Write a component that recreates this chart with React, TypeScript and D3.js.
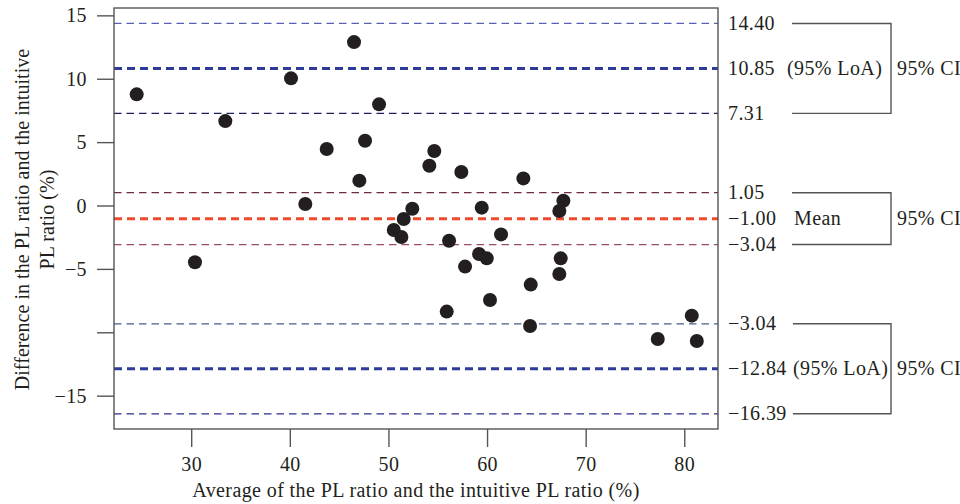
import React from "react";
import * as d3 from "d3";

// ---- data ----
const avgValues: number[] = [
  24.42, 33.41, 40.07, 46.46, 49.0, 43.69, 47.58, 47.0, 41.52, 54.6, 54.1, 57.34,
  52.37, 51.5, 50.49, 51.26, 56.1, 63.63, 59.41, 67.69, 67.28, 61.37, 59.14, 59.92,
  57.72, 67.42, 67.28, 64.38, 60.25, 64.31, 55.86, 30.33, 80.71, 77.26, 81.22,
];
const diffValues: number[] = [
  8.81, 6.7, 10.07, 12.93, 8.02, 4.5, 5.15, 2.0, 0.16, 4.34, 3.18, 2.68,
  -0.21, -1.03, -1.89, -2.44, -2.74, 2.18, -0.13, 0.42, -0.39, -2.24, -3.79, -4.13,
  -4.78, -4.13, -5.36, -6.2, -7.41, -9.46, -8.33, -4.44, -8.65, -10.49, -10.65,
];

const refValues: number[] = [14.4, 10.85, 7.31, 1.05, -1.0, -3.04, -9.29, -12.84, -16.39];
const refLabels: string[] = ["14.40", "10.85", "7.31", "1.05", "−1.00", "−3.04", "−3.04", "−12.84", "−16.39"];
const refColors: string[] = ["#5b5fb3", "#2e3b97", "#1d1d5e", "#6e2b3c", "#ee4a2d", "#9a4b6b", "#4b5a8a", "#2e3b9a", "#2c2c8e"];
const refThick: boolean[] = [false, true, false, false, true, false, false, true, false];

const xTicks: number[] = [30, 40, 50, 60, 70, 80];
const yTicks: number[] = [-15, -10, -5, 0, 5, 10, 15];
const yTickLabels: string[] = ["−15", "", "−5", "0", "5", "10", "15"];

const xTitle = "Average of the PL ratio and the intuitive PL ratio (%)";
const yTitle1 = "Difference in the PL ratio and the intuitive";
const yTitle2 = "PL ratio (%)";

const brackets: { top: number; mid: number; bottom: number; text: string }[] = [
  { top: 0, mid: 1, bottom: 2, text: "(95% LoA)" },
  { top: 3, mid: 4, bottom: 5, text: "Mean" },
  { top: 6, mid: 7, bottom: 8, text: "(95% LoA)" },
];

export default function App() {
  const W = 960, H = 504;
  const L = 114, R = 718, T = 8, B = 429;
  const font = "'Liberation Serif', 'Times New Roman', serif";
  const fs = 20;
  const ls = 0.4;
  const x = d3.scaleLinear().domain([22.12, 83.37]).range([L, R]);
  const y = d3.scaleLinear().domain([-17.59, 15.62]).range([B, T]);
  const grey = "#555";
  const txt = "#231f20";

  return (
    <svg width={W} height={H} style={{ position: "absolute", left: 0, top: 0, background: "#fff" }}>
      {refValues.map((v, i) => (
        <line key={"r" + i} x1={L} x2={R} y1={y(v)} y2={y(v)}
          stroke={refColors[i]} strokeWidth={refThick[i] ? 3 : 1.3}
          strokeDasharray={refThick[i] ? "8,5" : "7.5,5"} />
      ))}
      {avgValues.map((a, i) => (
        <circle key={"p" + i} cx={x(a)} cy={y(diffValues[i])} r={7} fill={txt} />
      ))}
      <rect x={L} y={T} width={R - L} height={B - T} fill="none" stroke={grey} strokeWidth={1.4} />
      {yTicks.map((t, i) => (
        <g key={"yt" + i}>
          <line x1={L - 17} x2={L} y1={y(t)} y2={y(t)} stroke={grey} strokeWidth={1.4} />
          <text x={L - 27} y={y(t)} dy="0.33em" textAnchor="end" fontFamily={font} fontSize={fs} letterSpacing={ls} fill={txt}>
            {yTickLabels[i]}
          </text>
        </g>
      ))}
      {xTicks.map((t, i) => (
        <g key={"xt" + i}>
          <line x1={x(t)} x2={x(t)} y1={B} y2={B + 18} stroke={grey} strokeWidth={1.4} />
          <text x={x(t)} y={471} textAnchor="middle" fontFamily={font} fontSize={fs} letterSpacing={ls} fill={txt}>
            {t}
          </text>
        </g>
      ))}
      <text x={416} y={497} textAnchor="middle" fontFamily={font} fontSize={fs} letterSpacing={ls} fill={txt}>
        {xTitle}
      </text>
      <g transform={`translate(29, ${219.5}) rotate(-90)`}>
        <text x={0} y={0} textAnchor="middle" fontFamily={font} fontSize={fs} letterSpacing={0.05} fill={txt}>{yTitle1}</text>
        <text x={0} y={25} textAnchor="middle" fontFamily={font} fontSize={fs} letterSpacing={0.05} fill={txt}>{yTitle2}</text>
      </g>
      {refValues.map((v, i) => (
        <text key={"rl" + i} x={728} y={y(v)} dy="0.33em" fontFamily={font} fontSize={fs} letterSpacing={ls} fill={txt}>
          {refLabels[i]}
        </text>
      ))}
      {brackets.map((b, i) => {
        const x0 = i === 2 ? 793 : 792;
        const x1 = 891;
        const yt = y(refValues[b.top]);
        const yb = y(refValues[b.bottom]);
        const ym = y(refValues[b.mid]);
        return (
          <g key={"b" + i}>
            <path d={`M${x0},${yt}H${x1}V${yb}H${x0}`} fill="none" stroke={grey} strokeWidth={1.4} />
            <text x={i === 1 ? 794 : i === 2 ? 793 : 787} y={ym} dy="0.33em" fontFamily={font} fontSize={fs} letterSpacing={ls} fill={txt}>
              {b.text}
            </text>
            <text x={897} y={ym} dy="0.33em" fontFamily={font} fontSize={fs} letterSpacing={ls} fill={txt}>95% CI</text>
          </g>
        );
      })}
    </svg>
  );
}
